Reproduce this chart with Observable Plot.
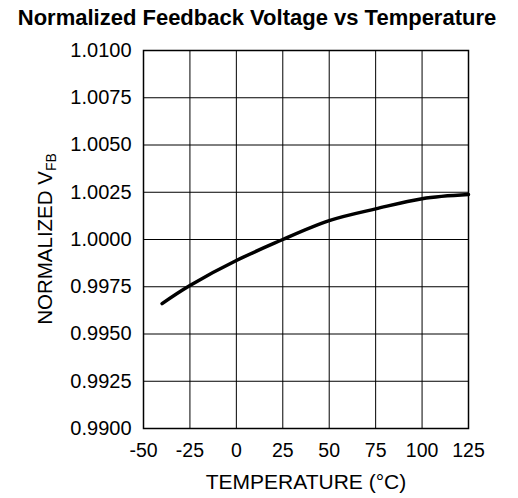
<!DOCTYPE html>
<html>
<head>
<meta charset="utf-8">
<script src="https://cdn.jsdelivr.net/npm/d3@7"></script>
<script src="https://cdn.jsdelivr.net/npm/@observablehq/plot@0.6"></script>
<style>
  html, body { margin: 0; padding: 0; background: #fff; }
  #title { width: 514px; height: 30px; line-height: 35px; text-align: center; overflow: visible; white-space: nowrap;
    font-family: "Liberation Sans", Arial, sans-serif; font-weight: bold; font-size: 22px; color: #000; }
</style>
</head>
<body>
<div id="title">Normalized Feedback Voltage vs Temperature</div>
<div id="chart"></div>
<script>
const temperature = [-40, -25, 0, 25, 50, 75, 100, 125];
const normVfb = [0.99661, 0.99757, 0.99889, 1.0000, 1.0010, 1.00162, 1.00216, 1.00238];
const xTicks = [-50, -25, 0, 25, 50, 75, 100, 125];
const yTicks = [0.9900, 0.9925, 0.9950, 0.9975, 1.0000, 1.0025, 1.0050, 1.0075, 1.0100];

const data = temperature.map((t, i) => ({t, v: normVfb[i]}));

const chart = Plot.plot({
  width: 518,
  height: 468,
  marginTop: 20,
  marginBottom: 70,
  marginLeft: 143,
  marginRight: 50,
  style: {fontFamily: "'Liberation Sans', Arial, sans-serif", fontSize: "20px", color: "#000", background: "#fff", overflow: "visible"},
  x: {domain: [-50, 125]},
  y: {domain: [0.99, 1.01]},
  marks: [
    Plot.gridX(xTicks, {stroke: "#000", strokeOpacity: 1, strokeWidth: 1}),
    Plot.gridY(yTicks, {stroke: "#000", strokeOpacity: 1, strokeWidth: 1}),
    Plot.frame({stroke: "#000", strokeWidth: 1.5}),
    Plot.axisX(xTicks, {tickSize: 0, tickPadding: 15, tickFormat: d => String(d), label: null, fontSize: 19.5, fill: "#000"}),
    Plot.axisX([], {tickSize: 0, label: "TEMPERATURE (°C)", labelAnchor: "center", labelArrow: "none", labelOffset: 60, fontSize: 21, fill: "#000"}),
    Plot.axisY(yTicks, {tickSize: 0, tickPadding: 12, tickFormat: d => d.toFixed(4), label: null, fontSize: 20, fill: "#000"}),
    Plot.line(data, {x: "t", y: "v", stroke: "#000", strokeWidth: 3.5, curve: "natural"})
  ]
});
document.getElementById("chart").appendChild(chart);

// Y axis label with subscript
const svg = d3.select(chart);
const lbl = svg.append("text")
  .attr("transform", `translate(52, ${(20 + 398) / 2}) rotate(-90)`)
  .attr("text-anchor", "middle")
  .attr("fill", "#000")
  .style("font-size", "20.5px");
lbl.append("tspan").text("NORMALIZED V");
lbl.append("tspan").attr("dy", "0.3em").style("font-size", "14px").text("FB");
</script>
</body>
</html>
